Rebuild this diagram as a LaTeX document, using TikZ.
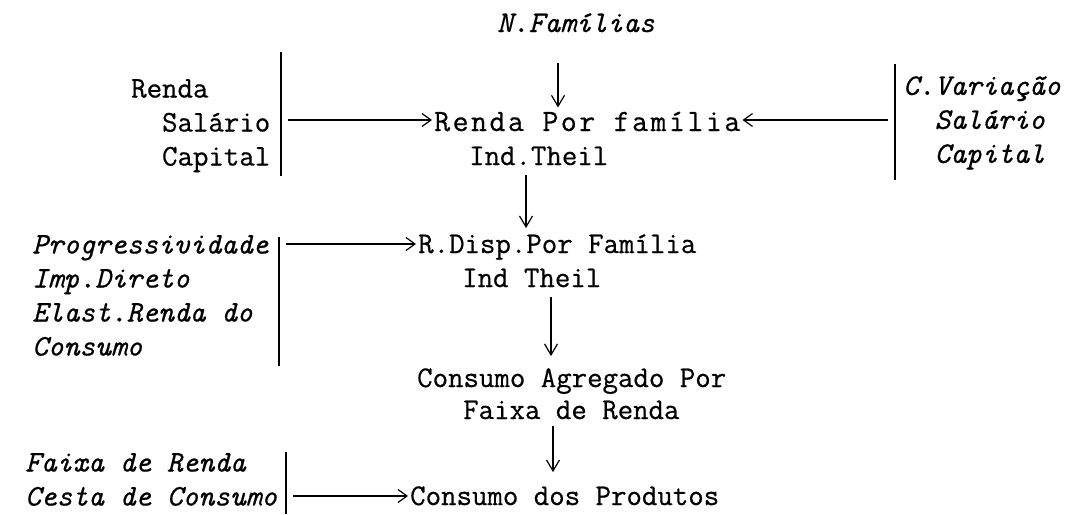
\documentclass[tikz,border=0pt]{standalone}
\usepackage{fontspec}
\setmonofont{Latin Modern Mono}[FakeBold=0.6]
\newfontfamily\widemono{Latin Modern Mono}[LetterSpace=8, FakeBold=0.6]
\usepackage{tikz}
\usetikzlibrary{arrows.meta, calc}

\tikzset{
  txt/.style={inner sep=0pt, font=\ttfamily\fontsize{30}{34}\selectfont, align=left},
  itx/.style={txt, font=\ttfamily\itshape\fontsize{30}{34}\selectfont},
  wtx/.style={txt, font=\widemono\fontsize{31}{34}\selectfont},
  harr/.style={-{Straight Barb[length=9pt,width=13pt]}, line width=1.2pt, shorten >=2pt},
  varr/.style={-{Straight Barb[length=11pt,width=13pt]}, line width=1.2pt},
  bar/.style={line width=1.6pt}
}

\begin{document}
\begin{tikzpicture}[x=1pt,y=-1pt]
      \useasboundingbox (0,0) rectangle (1067,514);
      % central column
      \node[itx, anchor=base west] (fam) at (497,32) {N.Famílias};
      \node[wtx, anchor=base west] (rpf) at (434,131) {Renda Por família};
      \node[txt, anchor=base west] (theil) at (469,165) {Ind.Theil};
      \node[txt, anchor=base west] (rdisp) at (418,253) {R.Disp.Por Família};
      \node[txt, anchor=base west] (itheil) at (462,287) {Ind Theil};
      \node[txt, anchor=base west] (cagr) at (417,387) {Consumo Agregado Por};
      \node[txt, anchor=base west] (faixa) at (463,419) {Faixa de Renda};
      \node[txt, anchor=base west] (cprod) at (410,505) {Consumo dos Produtos};
      % side blocks
      \node[txt, anchor=north west] (renda) at (131,79)
        {Renda\\\phantom{Re}Salário\\\phantom{Re}Capital};
      \node[itx, anchor=north west] (cvar) at (903,76)
        {C.Variação\\\phantom{C.}Salário\\\phantom{C.}Capital};
      \node[itx, anchor=north west] (prog) at (32,235)
        {Progressividade\\Imp.Direto\\Elast.Renda do\\Consumo};
      \node[itx, anchor=north west] (cesta) at (25,453)
        {Faixa de Renda\\Cesta de Consumo};
      % bars
      \coordinate (b1t) at (281,52);  \coordinate (b1b) at (281,176);
      \coordinate (b2t) at (895,64);  \coordinate (b2b) at (895,180);
      \coordinate (b3t) at (279,237); \coordinate (b3b) at (279,366);
      \coordinate (b4t) at (286,452); \coordinate (b4b) at (286,514);
      \draw[bar] (b1t) -- (b1b);
      \draw[bar] (b2t) -- (b2b);
      \draw[bar] (b3t) -- (b3b);
      \draw[bar] (b4t) -- (b4b);
      % horizontal lines
      \coordinate (h1) at (288,120);
      \coordinate (h2) at (888,120);
      \coordinate (h3) at (286,244);
      \coordinate (h4) at (293,496);
      \draw[harr] (h1) -- (h1 -| rpf.west);
      \draw[harr] (h2) -- (h2 -| rpf.east);
      \draw[harr] (h3) -- (h3 -| rdisp.west);
      \draw[harr] (h4) -- (h4 -| cprod.west);
      % vertical lines
      \coordinate (v1) at (558,0);
      \coordinate (v2) at (526,0);
      \coordinate (v3) at (551,0);
      \coordinate (v4) at (553,0);
      \draw[varr, shorten <=31pt, shorten >=4pt] (fam.south -| v1) -- (rpf.north -| v1);
      \draw[varr, shorten <=10pt, shorten >=6pt] (theil.south -| v2) -- (rdisp.north -| v2);
      \draw[varr, shorten <=10pt, shorten >=12pt] (itheil.south -| v3) -- (cagr.north -| v3);
      \draw[varr, shorten <=6pt, shorten >=14pt] (faixa.south -| v4) -- (cprod.north -| v4);
\end{tikzpicture}
\end{document}
